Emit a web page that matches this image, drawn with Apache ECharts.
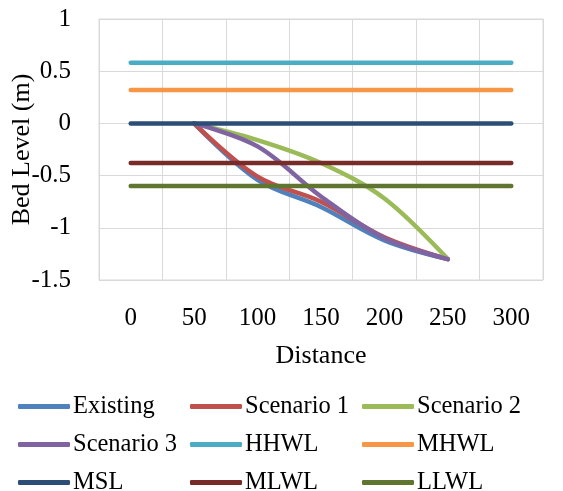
<!DOCTYPE html>
<html>
<head>
<meta charset="utf-8">
<script src="https://cdn.jsdelivr.net/npm/echarts@6/dist/echarts.min.js"></script>
<style>
  html, body { margin: 0; padding: 0; background: #fff; }
  #chart { width: 563px; height: 491px; }
</style>
</head>
<body>
<div id="chart"></div>
<script>
var myChart = echarts.init(document.getElementById('chart'));

var distances = ['0', '50', '100', '150', '200', '250', '300'];

var existing  = [null, 0, -0.54, -0.80, -1.12, -1.30, null];
var scenario1 = [null, 0, -0.51, -0.75, -1.09, -1.30, null];
var scenario2 = [null, 0, -0.16, -0.38, -0.72, -1.30, null];
var scenario3 = [null, 0, -0.22, -0.70, -1.10, -1.30, null];
var hhwl = [0.58, 0.58, 0.58, 0.58, 0.58, 0.58, 0.58];
var mhwl = [0.32, 0.32, 0.32, 0.32, 0.32, 0.32, 0.32];
var msl  = [0, 0, 0, 0, 0, 0, 0];
var mlwl = [-0.38, -0.38, -0.38, -0.38, -0.38, -0.38, -0.38];
var llwl = [-0.60, -0.60, -0.60, -0.60, -0.60, -0.60, -0.60];

var font = 'Liberation Serif';

function line(name, data, color, smooth) {
  return {
    name: name,
    type: 'line',
    data: data,
    smooth: smooth ? 0.35 : false,
    symbol: 'none',
    connectNulls: false,
    color: color,
    lineStyle: { width: 4.5, color: color, cap: 'round', join: 'round' }
  };
}

function legend(left, names) {
  return {
    orient: 'vertical',
    left: left,
    top: 394,
    height: 130,
    padding: 0,
    itemWidth: 52,
    itemHeight: 5,
    itemGap: 13,
    icon: 'roundRect',
    data: names,
    textStyle: { fontFamily: font, fontSize: 24.5, lineHeight: 24, color: '#000', padding: [0, 0, 0, -2] }
  };
}

var option = {
  animation: false,
  grid: {
    left: 99, right: 20, top: 19, bottom: 211,
    outerBoundsMode: 'none',
    containLabel: false,
    show: true, borderColor: '#D9D9D9', borderWidth: 1
  },
  legend: [
    legend(18, ['Existing', 'Scenario 3', 'MSL']),
    legend(190, ['Scenario 1', 'HHWL', 'MLWL']),
    legend(362, ['Scenario 2', 'MHWL', 'LLWL'])
  ],
  xAxis: {
    type: 'category',
    data: distances,
    boundaryGap: true,
    name: 'Distance',
    nameLocation: 'middle',
    nameGap: 63,
    nameMoveOverlap: false,
    nameTextStyle: { fontFamily: font, fontSize: 26, color: '#000' },
    axisLine: { lineStyle: { color: '#D9D9D9' } },
    axisTick: { show: false },
    axisLabel: { fontFamily: font, fontSize: 25, color: '#000', margin: 26 },
    splitLine: { show: true, lineStyle: { color: '#D9D9D9', width: 1 } }
  },
  yAxis: {
    type: 'value',
    min: -1.5,
    max: 1,
    interval: 0.5,
    name: 'Bed Level (m)',
    nameLocation: 'middle',
    nameGap: 64,
    nameMoveOverlap: false,
    nameTextStyle: { fontFamily: font, fontSize: 26, color: '#000' },
    axisLine: { show: true, lineStyle: { color: '#D9D9D9' } },
    axisTick: { show: false },
    axisLabel: { fontFamily: font, fontSize: 25, color: '#000', margin: 28 },
    splitLine: { show: true, lineStyle: { color: '#D9D9D9', width: 1 } }
  },
  series: [
    line('Existing', existing, '#4F81BD', true),
    line('Scenario 1', scenario1, '#C0504D', true),
    line('Scenario 2', scenario2, '#9BBB59', true),
    line('Scenario 3', scenario3, '#8064A2', true),
    line('HHWL', hhwl, '#4BACC6', false),
    line('MHWL', mhwl, '#F79646', false),
    line('MSL', msl, '#2C4D75', false),
    line('MLWL', mlwl, '#772C2A', false),
    line('LLWL', llwl, '#5F7530', false)
  ]
};

myChart.setOption(option);
</script>
</body>
</html>
